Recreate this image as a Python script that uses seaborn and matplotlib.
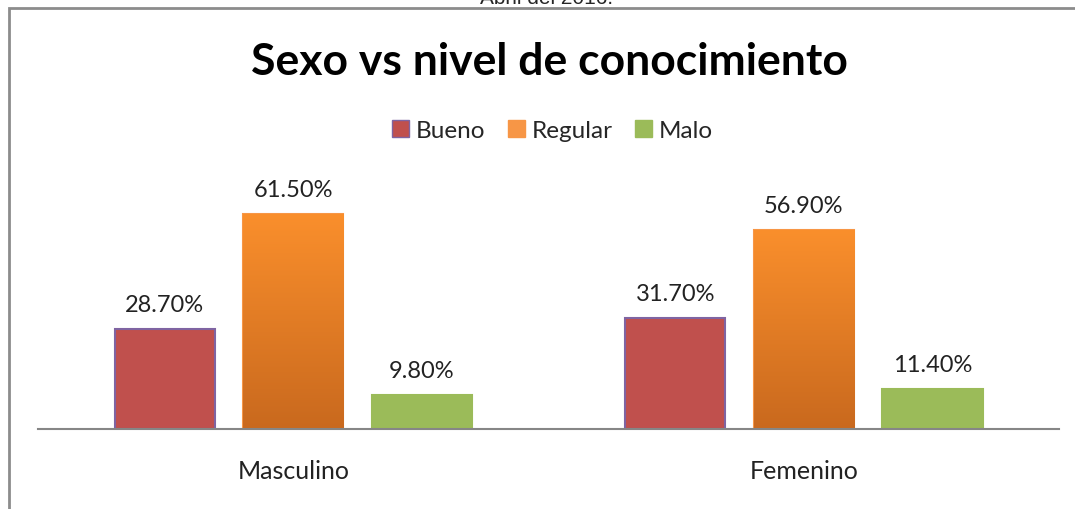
import numpy as np
import pandas as pd
import seaborn as sns
import matplotlib.pyplot as plt
from matplotlib.patches import Rectangle

sexo = ["Masculino", "Femenino"]
niveles = ["Bueno", "Regular", "Malo"]
bueno = [28.7, 31.7]
regular = [61.5, 56.9]
malo = [9.8, 11.4]

colores = {"Bueno": "#C0504D", "Regular": "#F79646", "Malo": "#9BBB59"}
bordes = {"Bueno": "#7F64A2", "Regular": "#F79646", "Malo": "#9BBB59"}

data = pd.DataFrame({
    "sexo": sexo * 3,
    "nivel": ["Bueno"] * 2 + ["Regular"] * 2 + ["Malo"] * 2,
    "valor": bueno + regular + malo,
})

sns.set_style("white")
plt.rcParams["font.family"] = ["Lato", "DejaVu Sans"]

fig = plt.figure(figsize=(10.75, 5.1), dpi=100)
ax = fig.add_axes([0.0353, 0.157, 0.95, 0.48])

sns.barplot(data=data, x="sexo", y="valor", hue="nivel", order=sexo,
            hue_order=niveles, palette=colores, saturation=1, width=0.755, gap=0.22,
            legend=False, ax=ax)

# bordes y degradado naranja
for cont, nivel in zip(ax.containers, niveles):
    for p in cont:
        p.set_edgecolor(bordes[nivel])
        p.set_linewidth(1.5)
        if nivel == "Regular":
            x0, y0 = p.get_x(), p.get_y()
            grad = np.linspace(0, 1, 256).reshape(-1, 1)
            cmap = sns.blend_palette(["#C9691E", "#FA8F2C"], as_cmap=True)
            im = ax.imshow(grad, cmap=cmap, aspect="auto", origin="lower",
                           extent=[x0, x0 + p.get_width(), y0, y0 + p.get_height()],
                           zorder=p.get_zorder() + 0.1)
            im.set_clip_path(p)
    ax.bar_label(cont, labels=[f"{v.get_height():.2f}%" for v in cont],
                 padding=10, fontsize=17, color="#222222")

ax.set_xlim(-0.5, 1.5)
ax.set_ylim(0, 70)
ax.set_xlabel("")
ax.set_ylabel("")
ax.set_yticks([])
ax.tick_params(axis="x", length=0, labelsize=18, pad=22, colors="#222222")
for s in ["top", "right", "left"]:
    ax.spines[s].set_visible(False)
ax.spines["bottom"].set_color("#868686")
ax.spines["bottom"].set_linewidth(1.5)

# leyenda
handles = [Rectangle((0, 0), 1, 1, facecolor=colores[n], edgecolor=bordes[n]) for n in niveles]
fig.legend(handles, niveles, loc="center", bbox_to_anchor=(0.514, 0.743), ncol=3,
           frameon=False, fontsize=17.5, handlelength=0.7, handleheight=0.7,
           handletextpad=0.3, columnspacing=0.9)

fig.text(0.511, 0.878, "Sexo vs nivel de conocimiento", ha="center", va="center",
         fontsize=32, fontweight="bold", color="black")

fig.text(0.508, 0.993, "Abril del 2016.", ha="center", va="baseline",
         fontsize=15, family="Liberation Sans")

fig.patches.append(Rectangle((0.0084, -0.05), 1.1, 1.032, transform=fig.transFigure,
                             fill=False, edgecolor="#8C8C8C", linewidth=2))

fig.savefig("out.png", dpi=100)
